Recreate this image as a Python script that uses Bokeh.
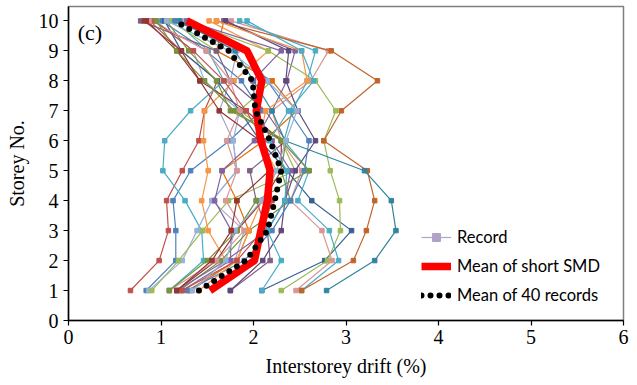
from bokeh.plotting import figure
from bokeh.models import Legend, LegendItem, FixedTicker, Label
from bokeh.embed import file_html
from bokeh.resources import INLINE

storeys = [1, 2, 3, 4, 5, 6, 7, 8, 9, 10]

# Individual record drift profiles (storey 1..10)
rec_colors = [
    "#B2A2C7", "#C0504D", "#4F81BD", "#4BACC6", "#95B3D7", "#9BBB59",
    "#F79646", "#E46C0A", "#8064A2", "#7F6084", "#943634", "#376092",
    "#9BBB59", "#D99694", "#4BACC6", "#C0652A", "#31859C", "#5F497A",
    "#77933C", "#D99694", "#4F81BD", "#F79646", "#8064A2", "#C0504D",
    "#4BACC6", "#77933C", "#95B3D7", "#943634",
]
rec_drifts = [
    [1.33, 1.80, 1.90, 1.55, 1.82, 1.78, 1.63, 1.75, 1.82, 1.22],
    [0.67, 0.98, 1.08, 1.06, 1.23, 1.41, 1.47, 1.61, 1.22, 0.88],
    [0.84, 1.16, 1.16, 1.13, 1.32, 1.74, 2.08, 1.87, 1.49, 1.01],
    [1.09, 1.46, 1.44, 1.26, 1.02, 1.04, 1.32, 1.68, 1.51, 1.15],
    [0.87, 1.23, 1.39, 1.55, 1.82, 1.78, 1.85, 1.47, 1.35, 0.95],
    [0.90, 1.19, 1.45, 1.73, 2.45, 2.30, 1.85, 2.20, 1.60, 1.10],
    [1.33, 1.70, 1.51, 1.44, 1.51, 1.46, 1.47, 1.79, 2.16, 1.52],
    [1.29, 1.82, 1.95, 1.82, 1.66, 2.11, 2.47, 2.20, 1.60, 1.68],
    [1.23, 1.75, 1.76, 1.58, 1.66, 2.01, 2.20, 2.36, 2.45, 1.68],
    [1.75, 2.18, 2.15, 2.03, 1.96, 2.35, 2.13, 1.75, 1.60, 0.78],
    [1.17, 1.60, 1.82, 2.10, 2.30, 2.30, 1.92, 1.42, 1.17, 0.85],
    [2.09, 2.77, 3.06, 2.63, 2.36, 2.07, 1.85, 1.61, 1.22, 1.04],
    [2.30, 2.80, 2.94, 2.93, 2.83, 2.76, 2.89, 2.67, 2.16, 1.28],
    [2.46, 2.85, 2.74, 2.40, 2.52, 2.30, 2.20, 2.62, 2.81, 1.76],
    [2.52, 2.92, 2.82, 2.48, 2.60, 2.33, 2.42, 2.58, 2.67, 1.85],
    [2.52, 3.08, 3.22, 3.31, 3.23, 2.76, 2.95, 3.34, 2.84, 1.60],
    [2.79, 3.31, 3.54, 3.49, 3.20, 2.34, 2.20, 2.00, 1.80, 1.20],
    [1.75, 2.10, 2.30, 2.34, 2.45, 2.67, 2.48, 2.35, 2.38, 1.70],
    [1.20, 1.65, 1.95, 2.40, 2.30, 2.35, 1.75, 1.60, 1.30, 1.06],
    [1.09, 1.60, 1.90, 1.70, 1.82, 1.71, 1.85, 1.75, 1.49, 0.90],
    [1.29, 1.90, 2.20, 2.40, 2.55, 2.60, 2.38, 2.15, 1.92, 1.15],
    [1.41, 1.82, 1.95, 2.09, 2.25, 2.07, 2.13, 2.58, 2.52, 1.60],
    [1.17, 1.70, 2.15, 2.34, 2.40, 2.20, 2.03, 1.99, 2.30, 1.28],
    [1.23, 1.82, 2.10, 2.20, 2.17, 2.11, 1.92, 1.68, 1.35, 0.93],
    [2.09, 2.30, 2.15, 2.34, 2.36, 2.17, 2.38, 2.65, 2.52, 1.93],
    [1.09, 1.50, 1.82, 2.03, 2.60, 2.30, 1.79, 1.47, 1.17, 0.95],
    [1.34, 1.70, 1.80, 2.09, 2.25, 2.35, 2.47, 2.15, 1.74, 1.06],
    [1.17, 1.55, 1.76, 1.82, 2.17, 2.07, 1.63, 1.42, 1.22, 0.82],
]

mean_short_smd = [1.53, 2.01, 2.08, 2.15, 2.18, 2.08, 2.03, 2.09, 1.93, 1.28]
mean_40_records = [1.41, 1.92, 2.15, 2.23, 2.30, 2.18, 2.02, 1.99, 1.73, 1.15]

x_ticks = [0, 1, 2, 3, 4, 5, 6]
y_ticks = [0, 1, 2, 3, 4, 5, 6, 7, 8, 9, 10]

p = figure(width=637, height=385, x_range=(0, 6), y_range=(0, 10.48),
           output_backend="svg", toolbar_location=None,
           min_border_left=68, min_border_right=14,
           min_border_top=6, min_border_bottom=65)
p.xgrid.visible = False
p.ygrid.visible = False
p.outline_line_color = "#7f7f7f"
p.outline_line_width = 1.5
p.background_fill_color = "white"
p.border_fill_color = "white"

serif = "Liberation Serif"
for ax in (p.xaxis, p.yaxis):
    ax.axis_line_color = "black"
    ax.axis_line_width = 1.5
    ax.major_tick_line_color = "black"
    ax.major_tick_line_width = 1.2
    ax.major_tick_out = 5
    ax.major_tick_in = 0
    ax.minor_tick_line_color = None
    ax.major_label_text_font = serif
    ax.major_label_text_font_size = "20px"
    ax.major_label_text_color = "black"
    ax.axis_label_text_font = serif
    ax.axis_label_text_font_size = "20px"
    ax.axis_label_text_font_style = "normal"
    ax.axis_label_text_color = "black"
p.xaxis.ticker = FixedTicker(ticks=x_ticks)
p.yaxis.ticker = FixedTicker(ticks=y_ticks)
p.xaxis.axis_label = "Interstorey drift (%)"
p.yaxis.axis_label = "Storey No."
p.xaxis.major_label_standoff = 4
p.xaxis.axis_label_standoff = 8
p.yaxis.major_label_standoff = 5
p.yaxis.axis_label_standoff = 8

legend_rec = []
for i, (c, d) in enumerate(zip(rec_colors, rec_drifts)):
    lr = p.line(d, storeys, line_color=c, line_width=1.2)
    sr = p.scatter(d, storeys, marker="square", size=4.5, fill_color=c, line_color=c)
    if i == 0:
        legend_rec = [lr, sr]

red = p.line(mean_short_smd, storeys, line_color="#FF0000", line_width=7.5,
             line_join="round", line_cap="butt")
blk = p.line(mean_40_records, storeys, line_color="black", line_width=6,
             line_dash="0 9", line_cap="round")

p.add_layout(Label(x=0.1, y=9.62, text="(c)", text_font=serif,
                   text_font_size="22px", text_color="black",
                   text_baseline="middle"))

legend = Legend(items=[
    LegendItem(label="Record", renderers=legend_rec),
    LegendItem(label="Mean of short SMD", renderers=[red]),
    LegendItem(label="Mean of 40 records", renderers=[blk]),
], location=(353, 15))
legend.label_text_font = "Lato"
legend.label_text_font_size = "16.5px"
legend.label_text_color = "black"
legend.border_line_color = None
legend.background_fill_alpha = 0
legend.glyph_width = 30
legend.glyph_height = 20
legend.label_height = 20
legend.spacing = 9
legend.padding = 2
legend.margin = 0
legend.label_standoff = 6
p.add_layout(legend)

open("out.html", "w").write(file_html(p, INLINE))
